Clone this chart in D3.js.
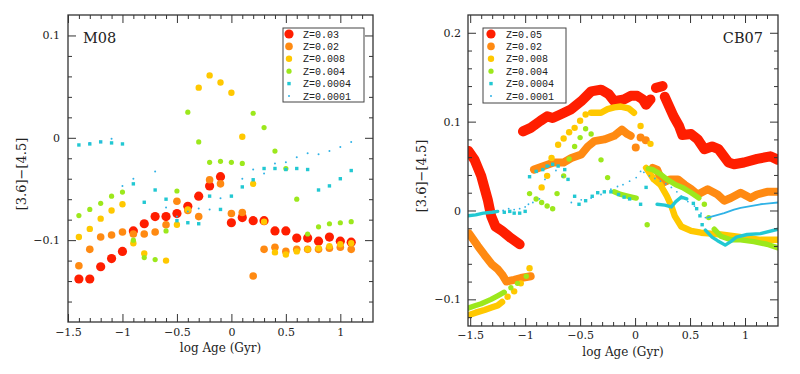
<!DOCTYPE html>
<html>
<head>
<meta charset="utf-8">
<script src="https://cdn.jsdelivr.net/npm/d3@7"></script>
<style>
  body { margin: 0; background: #fff; }
  svg text { font-family: "DejaVu Serif", "Liberation Serif", serif; fill: #222; }
  svg .legend text { font-family: "Liberation Mono", "DejaVu Sans Mono", monospace; }
</style>
</head>
<body>
<svg id="chart" width="800" height="374"></svg>
<script>
// ---- M08 panel: one point per 0.1 dex in age ----
var m08Ages = [-1.4,-1.3,-1.2,-1.1,-1.0,-0.9,-0.8,-0.7,-0.6,-0.5,-0.4,-0.3,-0.2,-0.1,
               0.0,0.1,0.2,0.3,0.4,0.5,0.6,0.7,0.8,0.9,1.0,1.1];
var m08Z003   = [-0.138,-0.138,-0.126,-0.118,-0.111,-0.091,-0.084,-0.077,-0.077,-0.074,-0.067,-0.057,-0.047,-0.038,
                 -0.083,-0.078,-0.081,-0.081,-0.091,-0.091,-0.098,-0.098,-0.101,-0.097,-0.101,-0.102];
var m08Z002   = [-0.125,-0.109,-0.097,-0.095,-0.092,-0.094,-0.094,-0.092,-0.085,-0.062,-0.071,-0.077,-0.041,-0.045,
                 -0.074,-0.073,-0.135,-0.109,-0.107,-0.111,-0.109,-0.109,-0.109,-0.108,-0.107,-0.109];
var m08Z0008  = [-0.097,-0.089,-0.079,-0.071,-0.065,-0.103,-0.113,null,-0.120,-0.085,-0.070,0.049,0.061,0.054,
                 0.044,0.001,-0.045,-0.082,-0.112,-0.114,-0.111,-0.109,-0.108,-0.106,-0.104,-0.103];
var m08Z0004  = [-0.076,-0.070,-0.064,-0.057,-0.053,-0.100,-0.117,-0.119,-0.091,-0.052,0.025,-0.004,-0.024,-0.023,
                 -0.024,-0.025,0.024,0.010,-0.013,-0.030,-0.060,-0.094,-0.087,-0.084,-0.083,-0.082];
var m08Z00004 = [-0.007,-0.006,-0.004,-0.005,-0.006,-0.045,-0.063,-0.051,-0.060,-0.081,-0.083,-0.084,-0.057,-0.070,
                 -0.057,-0.048,-0.041,-0.030,-0.030,-0.031,-0.030,-0.031,-0.051,-0.047,-0.040,-0.032];
var m08Z00001 = [null,-0.005,-0.004,-0.001,-0.047,-0.040,null,-0.033,-0.068,-0.077,-0.072,-0.069,-0.070,-0.059,
                 null,-0.040,-0.031,-0.035,-0.025,-0.024,-0.019,-0.015,-0.016,-0.013,-0.009,-0.004];
var m08Labels = ["Z=0.03","Z=0.02","Z=0.008","Z=0.004","Z=0.0004","Z=0.0001"];

// ---- CB07 panel: densely sampled tracks (null = gap) plus isolated points ----
var cb07Z005Track = [[-1.515,0.067],[-1.46,0.057],[-1.40,0.039],[-1.34,0.012],[-1.31,-0.006],[-1.27,-0.018],[-1.21,-0.023],[-1.13,-0.031],[-1.05,-0.038],null,
  [-1.02,0.089],[-0.95,0.093],[-0.86,0.101],[-0.80,0.106],[-0.75,0.104],[-0.68,0.108],[-0.58,0.114],[-0.49,0.123],[-0.40,0.134],[-0.31,0.136],[-0.24,0.131],[-0.19,0.123],[-0.10,0.125],[-0.04,0.129],[0.02,0.129],[0.07,0.125],[0.10,0.119],[0.14,0.125],null,
  [0.19,0.138],[0.25,0.140],null,
  [0.27,0.128],[0.35,0.106],[0.40,0.095],[0.43,0.085],[0.51,0.086],[0.57,0.080],[0.63,0.069],[0.70,0.072],[0.76,0.069],[0.85,0.054],[0.90,0.052],[0.99,0.054],[1.11,0.058],[1.23,0.061],[1.30,0.057]];
var cb07Z005Dots = [];
var cb07Z002Track = [[-1.51,-0.026],[-1.43,-0.040],[-1.37,-0.050],[-1.30,-0.061],[-1.25,-0.066],[-1.21,-0.072],[-1.17,-0.080],[-1.10,-0.078],[-1.04,-0.076],[-0.95,-0.074],null,
  [-0.92,0.046],[-0.83,0.050],[-0.74,0.054],[-0.65,0.054],[-0.58,0.059],[-0.49,0.063],[-0.43,0.072],[-0.37,0.078],[-0.28,0.080],[-0.19,0.084],[-0.12,0.091],[-0.07,0.086],[-0.04,0.084],null,
  [0.16,0.048],[0.20,0.046],[0.25,0.031],[0.32,0.035],[0.39,0.035],[0.45,0.029],[0.51,0.024],[0.57,0.018],[0.66,0.024],[0.75,0.018],[0.81,0.011],[0.87,0.014],[0.96,0.020],[1.05,0.014],[1.11,0.018],[1.20,0.021],[1.30,0.021]];
var cb07Z002Dots = [[0.006,0.071],[0.05,0.082],[0.097,0.079]];
var cb07Z0008Track = [[-1.52,-0.118],[-1.45,-0.115],[-1.37,-0.112],[-1.30,-0.109],[-1.25,-0.107],[-1.21,-0.103],null,
  [-0.40,0.110],[-0.31,0.110],[-0.25,0.114],[-0.19,0.116],[-0.13,0.117],[-0.06,0.115],[-0.01,0.110],null,
  [0.10,0.048],[0.17,0.035],[0.23,0.029],[0.29,0.016],[0.33,0.005],[0.36,-0.006],[0.42,-0.018],[0.51,-0.023],[0.60,-0.025],[0.69,-0.026],[0.78,-0.027],[0.90,-0.029],[1.02,-0.031],[1.14,-0.033],[1.30,-0.033]];
var cb07Z0008Dots = [[-1.16,-0.097],[-1.10,-0.091],[-1.04,-0.082],[-0.96,-0.065],[-0.85,0.026],[-0.80,0.039],[-0.76,0.059],[-0.70,0.074],[-0.65,0.081],[-0.60,0.088],[-0.55,0.093],[-0.50,0.101],[-0.45,0.108],[0.05,0.095],[0.14,0.075]];
var cb07Z0004Track = [[-1.52,-0.110],[-1.45,-0.107],[-1.40,-0.105],[-1.31,-0.100],[-1.25,-0.096],[-1.19,-0.092],null,
  [-0.19,0.021],[-0.13,0.018],[-0.06,0.016],[0.01,0.014],null,
  [0.12,0.047],[0.16,0.046],[0.23,0.041],[0.29,0.035],[0.37,0.029],[0.43,0.026],[0.51,0.020],[0.58,0.014],null,
  [0.72,-0.021],[0.78,-0.029],[0.87,-0.033],[0.96,-0.033],[1.08,-0.035],[1.20,-0.038],[1.30,-0.042]];
var cb07Z0004Dots = [[-1.13,-0.087],[-1.07,-0.082],[-0.99,-0.074],[-0.96,0.019],[-0.90,0.013],[-0.85,0.009],[-0.80,0.005],[-0.75,0.002],[-0.71,0.019],[-0.65,0.039],[-0.60,0.058],[-0.55,0.072],[-0.50,0.082],[-0.45,0.092],[-0.40,0.086],[-0.31,0.057],[-0.25,0.037],[0.11,-0.016],[0.63,0.007],[0.67,-0.008]];
var cb07Z00004Track = [[-1.52,-0.006],[-1.45,-0.005],[-1.38,-0.003],[-1.30,-0.002],[-1.25,-0.001],null,
  [0.20,0.007],[0.27,0.006],[0.33,0.004],[0.37,0.010],[0.42,0.015],[0.47,0.013],null,
  [0.64,-0.022],[0.70,-0.030],[0.75,-0.034],[0.82,-0.039],[0.87,-0.035],[0.92,-0.030],[1.02,-0.027],[1.14,-0.026],[1.30,-0.021]];
var cb07Z00004Dots = [[-1.19,-0.002],[-1.14,-0.001],[-1.10,-0.003],[-1.05,-0.003],[-1.00,-0.001],[-0.96,0.038],[-0.90,0.044],[-0.84,0.046],[-0.80,0.050],[-0.75,0.052],[-0.70,0.050],[-0.64,0.046],[-0.61,0.035],[-0.55,0.016],[-0.51,0.007],[-0.45,0.011],[-0.39,0.016],[-0.34,0.020],[-0.28,0.021],[-0.22,0.021],[-0.15,0.018],[-0.10,0.015],[-0.05,0.013],[0.05,0.007],[0.10,0.026],[0.53,0.008],[0.56,0.002],[0.59,-0.006],[0.61,-0.016]];
var cb07Z00001Track = [[0.66,-0.008],[0.72,-0.006],[0.81,-0.003],[0.90,0.001],[0.96,0.003],[1.05,0.005],[1.14,0.007],[1.22,0.008],[1.30,0.009]];
var cb07Z00001Dots = [[-1.20,0.000],[-1.15,0.002],[-1.10,0.001],[-1.05,0.002],[-1.00,0.004],[-0.97,0.007],[-0.93,0.009],[-0.87,0.013],[-0.82,0.035],[-0.78,0.050],[-0.72,0.045],[-0.66,0.038],[-0.58,0.009],[-0.49,0.012],[-0.40,0.014],[-0.31,0.018],[-0.22,0.024],[-0.16,0.027],[-0.11,0.029],[-0.05,0.033],[0.01,0.037],[0.05,0.044],[0.08,0.043],[0.13,0.039],[0.18,0.036],[0.23,0.033],[0.28,0.030],[0.33,0.026],[0.38,0.021],[0.42,0.016],[0.48,0.010],[0.54,0.005],[0.60,-0.003],[0.64,-0.008]];
var cb07Labels = ["Z=0.05","Z=0.02","Z=0.008","Z=0.004","Z=0.0004","Z=0.0001"];

var xMajorTicks = [-1.5,-1,-0.5,0,0.5,1];

// marker styles, same order as the legends
var styles = [
  {color: "#ff1e00", r: 4.6, shape: "circle"},
  {color: "#ff8a12", r: 3.8, shape: "circle"},
  {color: "#ffc800", r: 3.2, shape: "circle"},
  {color: "#9ce81c", r: 2.6, shape: "circle"},
  {color: "#22c8d2", r: 1.7, shape: "square"},
  {color: "#2fb2e6", r: 1.0, shape: "circle"}
];

var svg = d3.select("#chart");
var fmt = d3.format(".1~f");

function drawMarker(g, sx, sy, a, v, st) {
  if (st.shape === "square") {
    g.append("rect").attr("x", sx(a) - st.r).attr("y", sy(v) - st.r)
      .attr("width", st.r * 2).attr("height", st.r * 2).attr("fill", st.color);
  } else {
    g.append("circle").attr("cx", sx(a)).attr("cy", sy(v)).attr("r", st.r).attr("fill", st.color);
  }
}

function drawPanel(p) {
  var x = d3.scaleLinear().domain(p.xDomain).range([p.left, p.right]);
  var y = d3.scaleLinear().domain(p.yDomain).range([p.bottom, p.top]);
  var g = svg.append("g");

  var clipId = "clip" + p.id;
  svg.append("clipPath").attr("id", clipId).append("rect")
    .attr("x", p.left).attr("y", p.top).attr("width", p.right - p.left).attr("height", p.bottom - p.top);
  var plot = g.append("g").attr("clip-path", "url(#" + clipId + ")");

  p.draw(plot, x, y);

  // ticks on all four sides, pointing inward
  var xMinor = d3.range(-15, 14).map(function(i) { return i / 10; })
    .filter(function(d) { return d > p.xDomain[0] && d < p.xDomain[1] && xMajorTicks.indexOf(d) < 0; });
  var yMinor = d3.range(-10, 12).map(function(i) { return +(i * 0.02).toFixed(2); })
    .filter(function(d) { return d > p.yDomain[0] && d < p.yDomain[1] && p.yTicks.indexOf(d) < 0; });

  function axes(sel, axisFn, scale, major, minor, withLabels, pad) {
    sel.append("g").call(axisFn(scale).tickValues(major).tickSize(-8).tickPadding(pad)
      .tickFormat(withLabels ? function(d) { return fmt(d); } : ""));
    sel.append("g").call(axisFn(scale).tickValues(minor).tickSize(-4).tickFormat(""));
    sel.selectAll(".domain").remove();
    sel.selectAll("line").attr("stroke", "#333").attr("stroke-width", 1);
    sel.selectAll("text").style("font-size", "11px").attr("fill", "#222");
  }
  axes(g.append("g").attr("transform", "translate(0," + p.bottom + ")"), d3.axisBottom, x, xMajorTicks, xMinor, true, p.xPad);
  axes(g.append("g").attr("transform", "translate(0," + p.top + ")"), d3.axisTop, x, xMajorTicks, xMinor, false, 0);
  axes(g.append("g").attr("transform", "translate(" + p.left + ",0)"), d3.axisLeft, y, p.yTicks, yMinor, true, p.yPad);
  axes(g.append("g").attr("transform", "translate(" + p.right + ",0)"), d3.axisRight, y, p.yTicks, yMinor, false, 0);

  g.append("rect").attr("x", p.left).attr("y", p.top)
    .attr("width", p.right - p.left).attr("height", p.bottom - p.top)
    .attr("fill", "none").attr("stroke", "#333").attr("stroke-width", 1.3);

  g.append("text").attr("x", (p.left + p.right) / 2).attr("y", p.xTitleY)
    .attr("text-anchor", "middle").style("font-size", "12px").text("log Age (Gyr)");
  g.append("text").attr("transform", "translate(" + p.yTitleX + "," + p.yTitleY + ") rotate(-90)")
    .attr("text-anchor", "middle").attr("dy", "0.35em").style("font-size", "13px").text("[3.6]\u2212[4.5]");

  g.append("text").attr("x", p.nameX).attr("y", p.nameY).attr("text-anchor", p.nameAnchor)
    .style("font-size", "14.5px").text(p.name);

  // legend
  var lg = g.append("g").attr("class", "legend");
  lg.append("rect").attr("x", p.legend.x).attr("y", p.legend.y)
    .attr("width", p.legend.w).attr("height", p.legend.h)
    .attr("fill", "#fff").attr("stroke", "#444").attr("stroke-width", 1);
  p.labels.forEach(function(lab, i) {
    var cy = p.legend.y + 6 + i * 12.4;
    var st = styles[i];
    if (st.shape === "square") {
      lg.append("rect").attr("x", p.legend.mx - st.r).attr("y", cy - st.r)
        .attr("width", st.r * 2).attr("height", st.r * 2).attr("fill", st.color);
    } else {
      lg.append("circle").attr("cx", p.legend.mx).attr("cy", cy).attr("r", st.r).attr("fill", st.color);
    }
    lg.append("text").attr("x", p.legend.tx).attr("y", cy).attr("dy", "0.35em")
      .style("font-size", "10px").text(lab);
  });
}

// left panel
drawPanel({
  id: "m08", name: "M08", nameX: 83, nameY: 43, nameAnchor: "start",
  left: 68, right: 373, top: 15, bottom: 322,
  xDomain: [-1.5, 1.3], yDomain: [-0.18, 0.12], yTicks: [-0.1, 0, 0.1],
  xPad: 6, yPad: 8, xTitleY: 352, yTitleX: 21, yTitleY: 174,
  labels: m08Labels,
  legend: {x: 283, y: 28, w: 81, h: 74, mx: 289, tx: 303},
  draw: function(plot, x, y) {
    [m08Z003, m08Z002, m08Z0008, m08Z0004, m08Z00004, m08Z00001].forEach(function(vals, k) {
      vals.forEach(function(v, i) {
        if (v !== null) drawMarker(plot, x, y, m08Ages[i], v, styles[k]);
      });
    });
  }
});

// right panel
drawPanel({
  id: "cb07", name: "CB07", nameX: 763, nameY: 43, nameAnchor: "end",
  left: 468, right: 778, top: 15, bottom: 326,
  xDomain: [-1.52, 1.3], yDomain: [-0.13, 0.22], yTicks: [-0.1, 0, 0.1, 0.2],
  xPad: 5, yPad: 7, xTitleY: 356, yTitleX: 421, yTitleY: 176,
  labels: cb07Labels,
  legend: {x: 483, y: 28, w: 83, h: 75, mx: 491, tx: 506},
  draw: function(plot, x, y) {
    var tracks = [cb07Z005Track, cb07Z002Track, cb07Z0008Track, cb07Z0004Track, cb07Z00004Track, cb07Z00001Track];
    var dots = [cb07Z005Dots, cb07Z002Dots, cb07Z0008Dots, cb07Z0004Dots, cb07Z00004Dots, cb07Z00001Dots];
    var line = d3.line().defined(function(d) { return d !== null; })
      .x(function(d) { return x(d[0]); }).y(function(d) { return y(d[1]); });
    var widths = [10, 8, 6.4, 5.4, 3.4, 1.8];
    tracks.forEach(function(tr, k) {
      plot.append("path").datum(tr).attr("d", line)
        .attr("fill", "none").attr("stroke", styles[k].color)
        .attr("stroke-width", widths[k])
        .attr("stroke-linecap", "round").attr("stroke-linejoin", "round");
      var st = {color: styles[k].color, r: widths[k] / 2, shape: styles[k].shape};
      dots[k].forEach(function(d) { drawMarker(plot, x, y, d[0], d[1], st); });
    });
  }
});
</script>
</body>
</html>
